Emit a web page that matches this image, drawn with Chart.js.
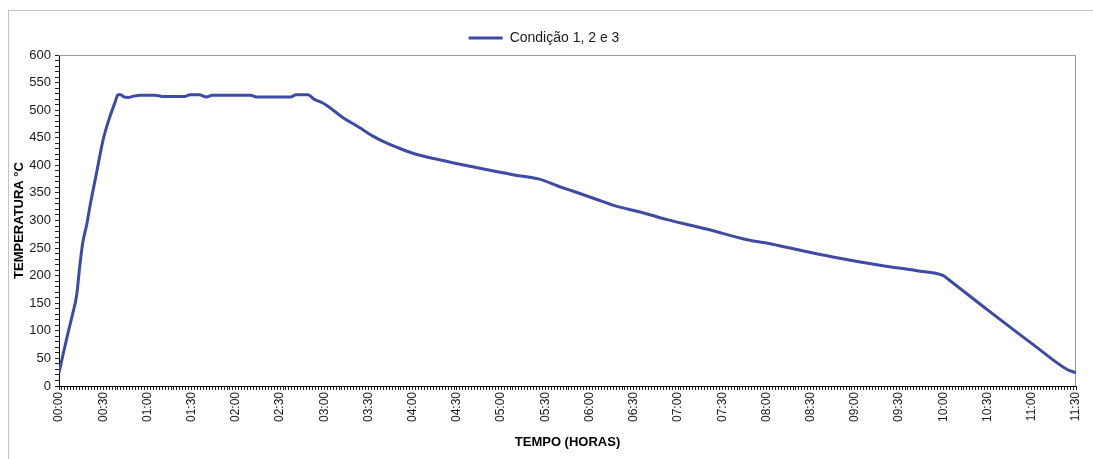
<!DOCTYPE html>
<html>
<head>
<meta charset="utf-8">
<script src="https://cdn.jsdelivr.net/npm/chart.js@4.4.0/dist/chart.umd.min.js"></script>
<style>
  html, body { margin: 0; padding: 0; background: #fff; overflow: hidden; }
  #frame { position: absolute; left: 8px; top: 10px; width: 1200px; height: 600px; border: 1px solid #c4c4c4; }
  #wrap { position: absolute; left: 0; top: 0; width: 1093px; height: 459px; }
</style>
</head>
<body>
<div id="frame"></div>
<div id="wrap"><canvas id="chart" width="1093" height="459"></canvas></div>
<script>
// time in minutes from start, temperature in °C
const minutes = [0, 3, 6, 9, 12, 14, 16, 19, 21, 25, 30, 34, 38, 40, 42, 44, 47, 50, 55, 65, 70, 85, 89, 95,
  100, 104, 130, 134, 157, 161, 169, 173, 179, 186, 193, 203, 213, 221, 229, 240, 258, 283, 308, 326, 338,
  349, 364, 378, 395, 412, 440, 467, 484, 503, 525, 559, 582, 600, 605, 630, 661, 684, 690];
const temperatures = [24, 60, 95, 128, 165, 215, 258, 295, 326, 380, 447, 484, 514, 528, 528, 524, 523, 525, 527, 527, 525, 525, 528, 528,
  524, 527, 527, 524, 524, 528, 528, 520, 513, 500, 486, 470, 453, 442, 433, 422, 410, 396, 383, 375, 363,
  353, 339, 326, 315, 302, 284, 265, 257, 246, 234, 218, 209, 200, 190, 138, 75, 30, 24];
const seriesLabel = 'Condição 1, 2 e 3';
const xMax = 690;   // 11:30
const yMax = 600;

function hhmm(m) {
  const h = Math.floor(m / 60), mm = m % 60;
  return String(h).padStart(2, '0') + ':' + String(mm).padStart(2, '0');
}

const points = minutes.map((m, i) => ({ x: m, y: temperatures[i] }));

const plotFrame = {
  id: 'plotFrame',
  beforeDatasetsDraw(chart) {
    const a = chart.chartArea, ctx = chart.ctx;
    ctx.save();
    ctx.strokeStyle = '#9a9a9a';
    ctx.lineWidth = 1;
    ctx.beginPath();
    ctx.moveTo(a.left, a.top + 0.5);
    ctx.lineTo(a.right - 0.5, a.top + 0.5);
    ctx.lineTo(a.right - 0.5, a.bottom);
    ctx.stroke();
    ctx.restore();
  }
};

const ctx = document.getElementById('chart').getContext('2d');
const chart = new Chart(ctx, {
  type: 'line',
  data: {
    datasets: [{
      label: seriesLabel,
      data: points,
      borderColor: '#3d4ba5',
      backgroundColor: '#3d4ba5',
      borderWidth: 3,
      pointRadius: 0,
      tension: 0.3,
      cubicInterpolationMode: 'monotone'
    }]
  },
  plugins: [plotFrame],
  options: {
    responsive: false,
    animation: false,
    layout: { padding: { left: 12, right: 17, top: 16, bottom: 9 } },
    plugins: {
      legend: {
        labels: {
          usePointStyle: true,
          pointStyle: 'line',
          pointStyleWidth: 34,
          color: '#1a1a1a',
          font: { family: '"Liberation Sans", Arial, sans-serif', size: 14 },
          padding: 15
        }
      },
      tooltip: { enabled: false }
    },
    scales: {
      x: {
        type: 'linear',
        min: 0,
        max: xMax,
        afterFit(scale) { scale.height = 64; },
        ticks: {
          stepSize: 2,
          maxTicksLimit: 400,
          autoSkip: false,
          minRotation: 90,
          maxRotation: 90,
          padding: 2,
          color: '#1a1a1a',
          font: { family: '"Liberation Sans", Arial, sans-serif', size: 12 },
          callback: (v) => (v % 30 === 0 ? hhmm(v) : '')
        },
        grid: { drawOnChartArea: false, tickLength: 4, color: '#222' },
        border: { color: '#000', width: 1 },
        title: {
          display: true,
          text: 'TEMPO (HORAS)',
          color: '#000',
          padding: { top: 0, bottom: 0 },
          font: { family: '"Liberation Sans", Arial, sans-serif', size: 13, weight: 'bold' }
        }
      },
      y: {
        min: 0,
        max: yMax,
        afterFit(scale) { scale.width = 47; },
        ticks: {
          stepSize: 10,
          maxTicksLimit: 100,
          autoSkip: false,
          padding: 4,
          color: '#1a1a1a',
          font: { family: '"Liberation Sans", Arial, sans-serif', size: 13 },
          callback: (v) => (v % 50 === 0 ? v : '')
        },
        grid: { drawOnChartArea: false, tickLength: 4, color: '#222' },
        border: { color: '#000', width: 1 },
        title: {
          display: true,
          text: 'TEMPERATURA °C',
          color: '#000',
          padding: { top: 0, bottom: 0 },
          font: { family: '"Liberation Sans", Arial, sans-serif', size: 13, weight: 'bold' }
        }
      }
    }
  }
});
</script>
</body>
</html>
